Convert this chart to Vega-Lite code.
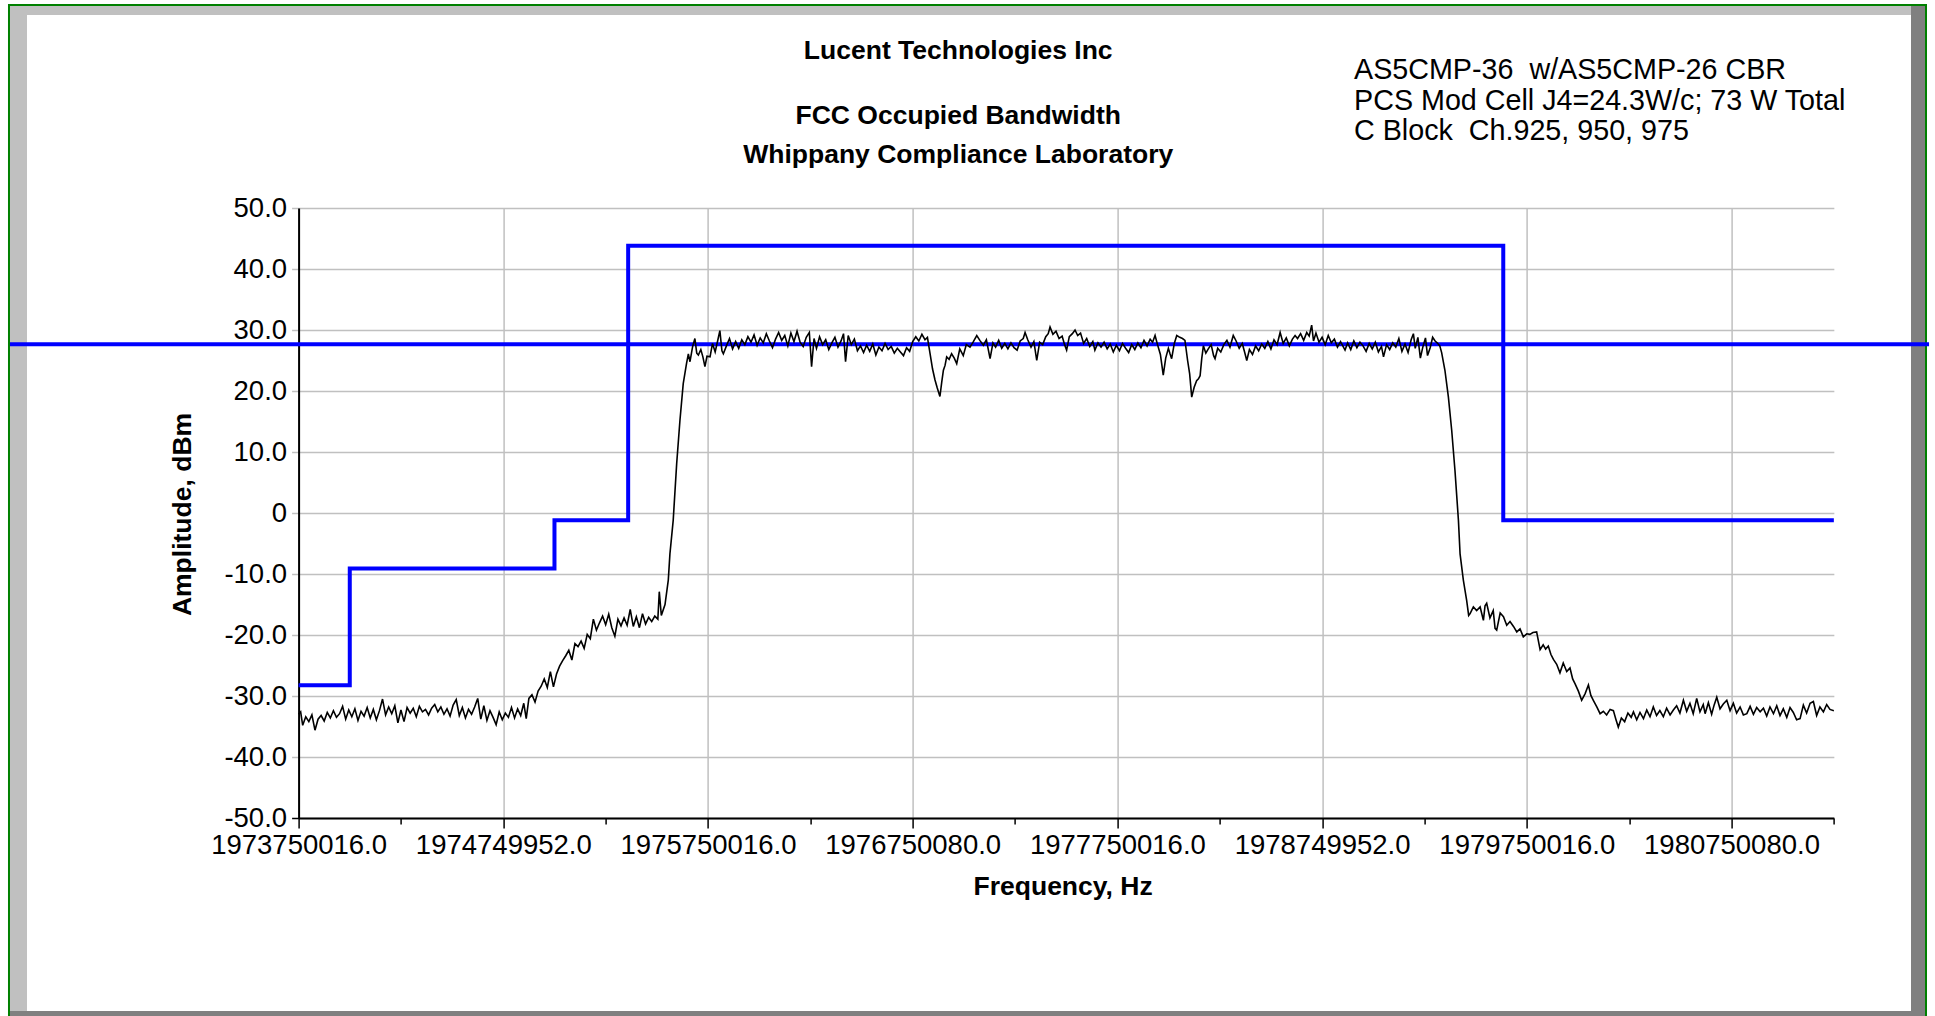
{
"$schema": "https://vega.github.io/schema/vega-lite/v6.json",
"width": 1535.25,
"height": 610,
"autosize": {"type": "none"},
"padding": {"left": 298.6, "top": 208, "right": 101.15, "bottom": 198},
"background": "white",
"title": {
 "text": "Lucent Technologies Inc",
 "subtitle": ["FCC Occupied Bandwidth", "Whippany Compliance Laboratory"],
 "anchor": "middle", "frame": "group", "dx": -108, "offset": -165,
 "font": "Liberation Sans", "fontSize": 26.5, "fontWeight": "bold", "color": "black",
 "subtitleFont": "Liberation Sans", "subtitleFontSize": 26.5, "subtitleFontWeight": "bold", "subtitleColor": "black",
 "subtitleLineHeight": 39.5, "subtitlePadding": 38.6
},
"datasets": {
"mask": [{"f":1973.75,"a":-28.25},{"f":1974.0,"a":-9.1},{"f":1975.0,"a":-1.2},{"f":1975.36,"a":43.8},{"f":1979.635,"a":-1.2},{"f":1981.25,"a":-1.2}],
"limit": [{"f":1972.34,"f2":1981.715,"a":27.65}],
"notes": [{"f":1978.906,"a":72.57,"note":["AS5CMP-36\u00a0 w/AS5CMP-26 CBR","PCS Mod Cell J4=24.3W/c; 73 W Total","C Block\u00a0 Ch.925, 950, 975"]}],
"trace": [
{"f":1973.750,"a":-33.0},{"f":1973.760,"a":-32.6},{"f":1973.770,"a":-34.8},{"f":1973.785,"a":-33.4},{"f":1973.800,"a":-34.2},{"f":1973.815,"a":-33.1},{"f":1973.830,"a":-35.6},{"f":1973.845,"a":-33.8},{"f":1973.860,"a":-33.2},{"f":1973.875,"a":-34.1},{"f":1973.890,"a":-32.7},{"f":1973.905,"a":-33.6},{"f":1973.920,"a":-32.4},{"f":1973.935,"a":-33.5},{"f":1973.950,"a":-32.9},{"f":1973.965,"a":-31.7},{"f":1973.980,"a":-33.8},{"f":1973.995,"a":-32.3},
{"f":1974.010,"a":-33.4},{"f":1974.025,"a":-32.1},{"f":1974.040,"a":-34.0},{"f":1974.055,"a":-32.5},{"f":1974.070,"a":-33.3},{"f":1974.085,"a":-31.9},{"f":1974.100,"a":-33.6},{"f":1974.115,"a":-32.2},{"f":1974.130,"a":-33.9},{"f":1974.145,"a":-32.4},{"f":1974.160,"a":-30.5},{"f":1974.175,"a":-33.1},{"f":1974.190,"a":-31.8},{"f":1974.205,"a":-32.9},{"f":1974.220,"a":-31.6},{"f":1974.235,"a":-34.4},{"f":1974.250,"a":-32.3},{"f":1974.265,"a":-34.2},{"f":1974.280,"a":-31.9},{"f":1974.295,"a":-32.8},{"f":1974.310,"a":-32.0},{"f":1974.325,"a":-33.4},{"f":1974.340,"a":-31.7},{"f":1974.355,"a":-32.6},{"f":1974.370,"a":-32.2},{"f":1974.385,"a":-33.1},{"f":1974.400,"a":-32.0},{"f":1974.415,"a":-31.4},{"f":1974.430,"a":-32.6},{"f":1974.445,"a":-31.8},{"f":1974.460,"a":-33.0},{"f":1974.475,"a":-32.1},{"f":1974.490,"a":-33.3},{"f":1974.505,"a":-31.5},{"f":1974.520,"a":-30.6},{"f":1974.535,"a":-33.2},{"f":1974.550,"a":-31.9},{"f":1974.565,"a":-33.6},{"f":1974.580,"a":-32.2},{"f":1974.595,"a":-33.0},{"f":1974.610,"a":-31.8},{"f":1974.625,"a":-30.4},{"f":1974.640,"a":-33.8},{"f":1974.655,"a":-31.6},{"f":1974.670,"a":-34.0},{"f":1974.685,"a":-32.4},{"f":1974.700,"a":-33.5},{"f":1974.715,"a":-34.7},{"f":1974.730,"a":-32.6},{"f":1974.745,"a":-33.9},{"f":1974.760,"a":-32.8},{"f":1974.775,"a":-33.5},{"f":1974.790,"a":-31.9},{"f":1974.805,"a":-33.6},{"f":1974.820,"a":-32.1},{"f":1974.835,"a":-33.2},{"f":1974.850,"a":-31.2},{"f":1974.862,"a":-33.7},{"f":1974.875,"a":-30.4},{"f":1974.890,"a":-29.8},{"f":1974.905,"a":-31.0},{"f":1974.920,"a":-29.2},{"f":1974.935,"a":-28.4},{"f":1974.950,"a":-27.2},{"f":1974.965,"a":-28.6},{"f":1974.980,"a":-26.0},{"f":1974.995,"a":-28.5},
{"f":1975.010,"a":-26.4},{"f":1975.025,"a":-25.1},{"f":1975.040,"a":-24.2},{"f":1975.055,"a":-23.4},{"f":1975.070,"a":-22.5},{"f":1975.085,"a":-24.1},{"f":1975.100,"a":-21.4},{"f":1975.115,"a":-21.9},{"f":1975.130,"a":-21.0},{"f":1975.145,"a":-22.2},{"f":1975.160,"a":-19.9},{"f":1975.175,"a":-20.6},{"f":1975.190,"a":-17.4},{"f":1975.205,"a":-19.2},{"f":1975.220,"a":-18.0},{"f":1975.235,"a":-16.9},{"f":1975.250,"a":-18.3},{"f":1975.265,"a":-16.6},{"f":1975.280,"a":-18.8},{"f":1975.295,"a":-20.2},{"f":1975.310,"a":-17.4},{"f":1975.325,"a":-18.5},{"f":1975.340,"a":-17.2},{"f":1975.355,"a":-18.4},{"f":1975.370,"a":-15.8},{"f":1975.385,"a":-18.6},{"f":1975.400,"a":-17.0},{"f":1975.415,"a":-18.8},{"f":1975.430,"a":-16.5},{"f":1975.445,"a":-18.2},{"f":1975.460,"a":-17.1},{"f":1975.475,"a":-17.8},{"f":1975.490,"a":-16.9},{"f":1975.505,"a":-17.4},{"f":1975.512,"a":-12.9},{"f":1975.522,"a":-16.8},{"f":1975.540,"a":-15.0},{"f":1975.556,"a":-11.0},{"f":1975.564,"a":-6.7},{"f":1975.580,"a":-1.2},{"f":1975.597,"a":8.1},{"f":1975.613,"a":15.2},{"f":1975.629,"a":21.2},{"f":1975.645,"a":24.5},{"f":1975.654,"a":26.1},{"f":1975.662,"a":24.8},{"f":1975.675,"a":27.3},{"f":1975.686,"a":28.6},{"f":1975.695,"a":26.2},{"f":1975.703,"a":25.9},{"f":1975.715,"a":26.8},{"f":1975.725,"a":25.6},{"f":1975.735,"a":24.0},{"f":1975.745,"a":25.7},{"f":1975.760,"a":25.6},{"f":1975.772,"a":27.8},{"f":1975.785,"a":26.4},{"f":1975.797,"a":28.2},{"f":1975.808,"a":29.9},{"f":1975.818,"a":26.6},{"f":1975.825,"a":26.1},
{"f":1975.840,"a":27.4},{"f":1975.855,"a":28.6},{"f":1975.870,"a":26.9},{"f":1975.885,"a":28.1},{"f":1975.900,"a":27.0},{"f":1975.915,"a":28.4},{"f":1975.930,"a":27.6},{"f":1975.945,"a":28.9},{"f":1975.960,"a":28.0},{"f":1975.975,"a":29.2},{"f":1975.990,"a":27.5},
{"f":1976.005,"a":28.7},{"f":1976.020,"a":27.9},{"f":1976.035,"a":29.4},{"f":1976.050,"a":28.2},{"f":1976.065,"a":27.1},{"f":1976.080,"a":28.5},{"f":1976.095,"a":29.6},{"f":1976.110,"a":28.3},{"f":1976.125,"a":29.1},{"f":1976.140,"a":27.4},{"f":1976.155,"a":29.5},{"f":1976.170,"a":28.1},{"f":1976.185,"a":29.8},{"f":1976.200,"a":28.0},{"f":1976.215,"a":27.3},{"f":1976.230,"a":28.8},{"f":1976.245,"a":29.6},{"f":1976.256,"a":24.0},{"f":1976.268,"a":28.6},{"f":1976.280,"a":27.0},{"f":1976.295,"a":28.9},{"f":1976.310,"a":27.6},{"f":1976.325,"a":28.4},{"f":1976.340,"a":26.8},{"f":1976.355,"a":27.9},{"f":1976.370,"a":28.8},{"f":1976.385,"a":27.2},{"f":1976.400,"a":28.2},{"f":1976.412,"a":29.4},{"f":1976.422,"a":24.8},{"f":1976.435,"a":29.1},{"f":1976.450,"a":27.6},{"f":1976.465,"a":28.5},{"f":1976.480,"a":26.6},{"f":1976.495,"a":27.4},{"f":1976.510,"a":26.3},{"f":1976.525,"a":27.5},{"f":1976.540,"a":26.5},{"f":1976.555,"a":27.7},{"f":1976.570,"a":25.9},{"f":1976.585,"a":27.2},{"f":1976.600,"a":26.6},{"f":1976.615,"a":27.8},{"f":1976.630,"a":26.8},{"f":1976.645,"a":27.3},{"f":1976.660,"a":26.2},{"f":1976.675,"a":27.0},{"f":1976.690,"a":26.4},{"f":1976.705,"a":25.8},{"f":1976.720,"a":27.1},{"f":1976.735,"a":26.5},{"f":1976.750,"a":28.1},{"f":1976.765,"a":28.9},{"f":1976.780,"a":28.2},{"f":1976.795,"a":29.3},{"f":1976.810,"a":28.4},{"f":1976.822,"a":28.8},{"f":1976.835,"a":26.1},{"f":1976.847,"a":23.6},{"f":1976.859,"a":21.8},{"f":1976.870,"a":20.5},{"f":1976.883,"a":19.1},{"f":1976.892,"a":21.5},{"f":1976.900,"a":23.4},{"f":1976.908,"a":24.2},{"f":1976.916,"a":25.6},{"f":1976.928,"a":25.2},{"f":1976.940,"a":26.1},{"f":1976.953,"a":25.4},{"f":1976.965,"a":24.5},{"f":1976.980,"a":26.9},{"f":1976.997,"a":25.8},
{"f":1977.012,"a":27.6},{"f":1977.030,"a":27.2},{"f":1977.045,"a":28.0},{"f":1977.063,"a":29.1},{"f":1977.078,"a":28.3},{"f":1977.095,"a":27.5},{"f":1977.110,"a":28.4},{"f":1977.128,"a":25.3},{"f":1977.142,"a":27.9},{"f":1977.155,"a":27.2},{"f":1977.170,"a":28.3},{"f":1977.185,"a":27.0},{"f":1977.200,"a":27.8},{"f":1977.215,"a":26.9},{"f":1977.230,"a":27.9},{"f":1977.245,"a":27.1},{"f":1977.260,"a":26.7},{"f":1977.275,"a":28.2},{"f":1977.290,"a":28.6},{"f":1977.299,"a":29.6},{"f":1977.312,"a":28.4},{"f":1977.328,"a":27.2},{"f":1977.342,"a":28.1},{"f":1977.356,"a":25.0},{"f":1977.370,"a":28.0},{"f":1977.385,"a":27.6},{"f":1977.400,"a":28.9},{"f":1977.412,"a":29.4},{"f":1977.421,"a":30.5},{"f":1977.435,"a":29.3},{"f":1977.450,"a":29.8},{"f":1977.465,"a":28.6},{"f":1977.480,"a":29.0},{"f":1977.492,"a":27.6},{"f":1977.502,"a":26.7},{"f":1977.515,"a":28.9},{"f":1977.530,"a":29.4},{"f":1977.543,"a":30.0},{"f":1977.556,"a":29.1},{"f":1977.570,"a":29.5},{"f":1977.585,"a":27.8},{"f":1977.600,"a":28.6},{"f":1977.615,"a":27.3},{"f":1977.630,"a":28.1},{"f":1977.640,"a":26.7},{"f":1977.655,"a":27.9},{"f":1977.670,"a":27.2},{"f":1977.685,"a":28.0},{"f":1977.700,"a":26.9},{"f":1977.715,"a":27.7},{"f":1977.730,"a":26.4},{"f":1977.745,"a":27.5},{"f":1977.760,"a":26.6},{"f":1977.775,"a":27.8},{"f":1977.790,"a":27.0},{"f":1977.805,"a":26.3},{"f":1977.820,"a":27.6},{"f":1977.835,"a":26.8},{"f":1977.850,"a":27.9},{"f":1977.865,"a":27.1},{"f":1977.880,"a":28.3},{"f":1977.895,"a":27.4},{"f":1977.910,"a":28.5},{"f":1977.922,"a":28.0},{"f":1977.934,"a":29.1},{"f":1977.946,"a":27.6},{"f":1977.960,"a":26.0},{"f":1977.974,"a":22.6},{"f":1977.986,"a":25.4},{"f":1977.999,"a":27.0},
{"f":1978.007,"a":26.1},{"f":1978.015,"a":25.3},{"f":1978.028,"a":27.8},{"f":1978.040,"a":29.1},{"f":1978.055,"a":28.8},{"f":1978.068,"a":28.6},{"f":1978.080,"a":28.3},{"f":1978.093,"a":25.0},{"f":1978.103,"a":22.8},{"f":1978.113,"a":19.0},{"f":1978.125,"a":20.6},{"f":1978.137,"a":21.7},{"f":1978.146,"a":22.0},{"f":1978.154,"a":22.5},{"f":1978.162,"a":25.3},{"f":1978.170,"a":27.4},{"f":1978.182,"a":26.2},{"f":1978.194,"a":26.9},{"f":1978.208,"a":27.6},{"f":1978.220,"a":25.8},{"f":1978.227,"a":25.3},{"f":1978.240,"a":27.0},{"f":1978.255,"a":26.4},{"f":1978.270,"a":27.6},{"f":1978.285,"a":28.3},{"f":1978.300,"a":27.2},{"f":1978.316,"a":29.1},{"f":1978.330,"a":28.2},{"f":1978.345,"a":27.0},{"f":1978.360,"a":27.8},{"f":1978.372,"a":26.3},{"f":1978.382,"a":25.0},{"f":1978.395,"a":26.8},{"f":1978.410,"a":26.0},{"f":1978.425,"a":27.4},{"f":1978.440,"a":26.6},{"f":1978.455,"a":27.7},{"f":1978.470,"a":27.0},{"f":1978.485,"a":28.1},{"f":1978.500,"a":26.9},{"f":1978.515,"a":28.4},{"f":1978.530,"a":27.6},{"f":1978.545,"a":29.6},{"f":1978.560,"a":27.8},{"f":1978.575,"a":28.7},{"f":1978.590,"a":27.4},{"f":1978.605,"a":28.5},{"f":1978.618,"a":29.1},{"f":1978.630,"a":28.6},{"f":1978.645,"a":29.4},{"f":1978.660,"a":28.3},{"f":1978.675,"a":29.6},{"f":1978.687,"a":29.0},{"f":1978.699,"a":30.8},{"f":1978.708,"a":28.2},{"f":1978.720,"a":29.5},{"f":1978.735,"a":28.0},{"f":1978.750,"a":28.8},{"f":1978.765,"a":27.6},{"f":1978.780,"a":29.1},{"f":1978.795,"a":27.9},{"f":1978.810,"a":28.5},{"f":1978.825,"a":27.2},{"f":1978.840,"a":28.1},{"f":1978.862,"a":26.7},{"f":1978.875,"a":27.9},{"f":1978.890,"a":26.8},{"f":1978.905,"a":28.2},{"f":1978.920,"a":27.1},{"f":1978.935,"a":28.0},{"f":1978.950,"a":27.4},{"f":1978.965,"a":26.5},{"f":1978.980,"a":27.8},{"f":1978.995,"a":26.9},
{"f":1979.010,"a":28.0},{"f":1979.025,"a":26.4},{"f":1979.040,"a":27.3},{"f":1979.050,"a":25.6},{"f":1979.065,"a":27.6},{"f":1979.080,"a":26.8},{"f":1979.095,"a":27.9},{"f":1979.110,"a":27.2},{"f":1979.125,"a":28.6},{"f":1979.140,"a":26.5},{"f":1979.155,"a":27.7},{"f":1979.170,"a":26.3},{"f":1979.185,"a":28.4},{"f":1979.196,"a":29.4},{"f":1979.205,"a":27.0},{"f":1979.218,"a":28.8},{"f":1979.230,"a":25.4},{"f":1979.242,"a":27.2},{"f":1979.255,"a":28.7},{"f":1979.265,"a":25.8},{"f":1979.278,"a":27.1},{"f":1979.290,"a":28.8},{"f":1979.302,"a":28.2},{"f":1979.312,"a":27.9},{"f":1979.325,"a":27.4},{"f":1979.334,"a":26.3},{"f":1979.350,"a":23.4},{"f":1979.367,"a":19.0},{"f":1979.383,"a":13.6},{"f":1979.399,"a":7.0},{"f":1979.416,"a":-1.2},{"f":1979.424,"a":-6.7},{"f":1979.440,"a":-11.0},{"f":1979.456,"a":-14.3},{"f":1979.466,"a":-16.8},{"f":1979.473,"a":-16.5},{"f":1979.489,"a":-15.4},{"f":1979.505,"a":-16.0},{"f":1979.522,"a":-15.4},{"f":1979.538,"a":-17.6},{"f":1979.546,"a":-15.2},{"f":1979.554,"a":-14.8},{"f":1979.570,"a":-17.2},{"f":1979.586,"a":-16.0},{"f":1979.595,"a":-18.9},{"f":1979.603,"a":-19.2},{"f":1979.620,"a":-16.4},{"f":1979.636,"a":-17.0},{"f":1979.652,"a":-18.4},{"f":1979.668,"a":-17.8},{"f":1979.685,"a":-18.6},{"f":1979.701,"a":-19.5},{"f":1979.717,"a":-19.0},{"f":1979.733,"a":-20.3},{"f":1979.750,"a":-19.8},{"f":1979.765,"a":-19.9},{"f":1979.780,"a":-19.6},{"f":1979.798,"a":-19.5},{"f":1979.815,"a":-22.4},{"f":1979.830,"a":-21.6},{"f":1979.842,"a":-22.3},{"f":1979.855,"a":-21.8},{"f":1979.868,"a":-23.2},{"f":1979.880,"a":-24.0},{"f":1979.896,"a":-24.8},{"f":1979.912,"a":-26.2},{"f":1979.928,"a":-24.6},{"f":1979.945,"a":-26.0},{"f":1979.961,"a":-25.4},{"f":1979.974,"a":-27.2},{"f":1979.986,"a":-28.0},
{"f":1980.002,"a":-29.2},{"f":1980.018,"a":-30.7},{"f":1980.035,"a":-29.6},{"f":1980.051,"a":-28.2},{"f":1980.063,"a":-29.9},{"f":1980.075,"a":-30.7},{"f":1980.092,"a":-31.8},{"f":1980.108,"a":-32.9},{"f":1980.124,"a":-32.5},{"f":1980.140,"a":-33.1},{"f":1980.157,"a":-32.2},{"f":1980.173,"a":-32.4},{"f":1980.185,"a":-33.8},{"f":1980.197,"a":-35.1},{"f":1980.212,"a":-33.6},{"f":1980.228,"a":-34.2},{"f":1980.244,"a":-32.8},{"f":1980.260,"a":-33.5},{"f":1980.271,"a":-32.6},{"f":1980.287,"a":-33.9},{"f":1980.303,"a":-32.7},{"f":1980.320,"a":-33.7},{"f":1980.336,"a":-32.3},{"f":1980.352,"a":-33.4},{"f":1980.368,"a":-31.8},{"f":1980.384,"a":-33.2},{"f":1980.400,"a":-32.4},{"f":1980.417,"a":-33.4},{"f":1980.433,"a":-32.0},{"f":1980.450,"a":-33.1},{"f":1980.466,"a":-32.3},{"f":1980.482,"a":-31.6},{"f":1980.498,"a":-32.8},{"f":1980.515,"a":-30.7},{"f":1980.531,"a":-32.5},{"f":1980.547,"a":-31.2},{"f":1980.563,"a":-32.9},{"f":1980.580,"a":-30.4},{"f":1980.596,"a":-32.6},{"f":1980.612,"a":-31.4},{"f":1980.621,"a":-32.9},{"f":1980.637,"a":-31.1},{"f":1980.653,"a":-33.0},{"f":1980.665,"a":-31.5},{"f":1980.678,"a":-30.2},{"f":1980.694,"a":-32.1},{"f":1980.710,"a":-31.3},{"f":1980.727,"a":-30.7},{"f":1980.743,"a":-32.4},{"f":1980.759,"a":-31.2},{"f":1980.775,"a":-32.8},{"f":1980.792,"a":-31.8},{"f":1980.808,"a":-33.1},{"f":1980.825,"a":-32.9},{"f":1980.841,"a":-31.7},{"f":1980.857,"a":-33.0},{"f":1980.873,"a":-31.9},{"f":1980.890,"a":-32.6},{"f":1980.906,"a":-32.0},{"f":1980.922,"a":-33.3},{"f":1980.938,"a":-31.8},{"f":1980.955,"a":-32.9},{"f":1980.971,"a":-31.6},{"f":1980.987,"a":-33.2},
{"f":1981.003,"a":-32.1},{"f":1981.020,"a":-33.5},{"f":1981.036,"a":-31.9},{"f":1981.052,"a":-32.7},{"f":1981.068,"a":-33.9},{"f":1981.085,"a":-33.7},{"f":1981.101,"a":-31.5},{"f":1981.117,"a":-32.8},{"f":1981.134,"a":-31.2},{"f":1981.150,"a":-30.9},{"f":1981.166,"a":-33.2},{"f":1981.182,"a":-31.8},{"f":1981.199,"a":-32.6},{"f":1981.215,"a":-31.4},{"f":1981.231,"a":-32.2},{"f":1981.250,"a":-32.4}
]
},
"layer": [
 {"data": {"values": [{"k": 1}]}, "mark": {"type": "rect", "color": "#c0c0c0", "clip": false},
  "encoding": {"x": {"datum": 1972.3401, "type": "quantitative"}, "x2": {"datum": 1981.6269}, "y": {"datum": 83.11, "type": "quantitative"}, "y2": {"datum": 81.64}}},
 {"data": {"values": [{"k": 1}]}, "mark": {"type": "rect", "color": "#c0c0c0", "clip": false},
  "encoding": {"x": {"datum": 1972.3401, "type": "quantitative"}, "x2": {"datum": 1972.4232}, "y": {"datum": 83.11, "type": "quantitative"}, "y2": {"datum": -81.64}}},
 {"data": {"values": [{"k": 1}]}, "mark": {"type": "rect", "color": "#808080", "clip": false},
  "encoding": {"x": {"datum": 1981.6269, "type": "quantitative"}, "x2": {"datum": 1981.7002}, "y": {"datum": 83.11, "type": "quantitative"}, "y2": {"datum": -82.46}}},
 {"data": {"values": [{"k": 1}]}, "mark": {"type": "rect", "color": "#808080", "clip": false},
  "encoding": {"x": {"datum": 1972.3401, "type": "quantitative"}, "x2": {"datum": 1981.7002}, "y": {"datum": -81.64, "type": "quantitative"}, "y2": {"datum": -82.46}}},
 {"data": {"values": [{"k": 1}]}, "mark": {"type": "rect", "filled": false, "stroke": "#008000", "strokeWidth": 2, "clip": false},
  "encoding": {"x": {"datum": 1972.3352, "type": "quantitative"}, "x2": {"datum": 1981.7002}, "y": {"datum": 83.28, "type": "quantitative"}, "y2": {"datum": -82.79}}},
 {"data": {"name": "mask"}, "mark": {"type": "line", "interpolate": "step-after", "color": "#0000ff", "strokeWidth": 4, "clip": false},
  "encoding": {"x": {"field": "f", "type": "quantitative"}, "y": {"field": "a", "type": "quantitative"}}},
 {"data": {"name": "limit"}, "mark": {"type": "rule", "color": "#0000ff", "strokeWidth": 4, "clip": false},
  "encoding": {"x": {"field": "f", "type": "quantitative"}, "x2": {"field": "f2"}, "y": {"field": "a", "type": "quantitative"}}},
 {"data": {"name": "trace"}, "mark": {"type": "line", "color": "black", "strokeWidth": 1.6, "clip": false},
  "encoding": {
   "x": {"field": "f", "type": "quantitative",
    "scale": {"domain": [1973.75, 1981.25], "nice": false, "zero": false},
    "axis": {
     "values": [1973.75,1974.25,1974.75,1975.25,1975.75,1976.25,1976.75,1977.25,1977.75,1978.25,1978.75,1979.25,1979.75,1980.25,1980.75,1981.25],
     "labelExpr": "round((datum.value-1973.75)*2) % 2 == 1 ? '' : ['1973750016.0','1974749952.0','1975750016.0','1976750080.0','1977750016.0','1978749952.0','1979750016.0','1980750080.0',''][round(datum.value-1973.75)]",
     "grid": true, "gridColor": "#c0c0c0", "gridWidth": 1.5,
     "gridOpacity": {"condition": {"test": "round((datum.value-1973.75)*2) % 2 == 1", "value": 0}, "value": 1},
     "tickColor": "black", "tickWidth": 1.5,
     "tickSize": {"condition": {"test": "round((datum.value-1973.75)*2) % 2 == 1", "value": 6}, "value": 10},
     "domainColor": "black", "domainWidth": 2,
     "labelFont": "Liberation Sans", "labelFontSize": 27.5, "labelColor": "black", "labelPadding": 3,
     "labelOverlap": false, "labelFlush": false, "labelBound": false,
     "title": "Frequency, Hz", "titleFont": "Liberation Sans", "titleFontSize": 26.5, "titleFontWeight": "bold", "titleColor": "black",
     "titleX": 764, "titleY": 68, "titleAlign": "center", "titleBaseline": "middle"
    }
   },
   "y": {"field": "a", "type": "quantitative",
    "scale": {"domain": [-50, 50], "nice": false, "zero": false},
    "axis": {
     "values": [-50,-47.5,-45,-42.5,-40,-37.5,-35,-32.5,-30,-27.5,-25,-22.5,-20,-17.5,-15,-12.5,-10,-7.5,-5,-2.5,0,2.5,5,7.5,10,12.5,15,17.5,20,22.5,25,27.5,30,32.5,35,37.5,40,42.5,45,47.5,50],
     "labelExpr": "datum.value % 10 != 0 ? '' : (datum.value == 0 ? '0' : datum.value + '.0')",
     "grid": true, "gridColor": "#c0c0c0", "gridWidth": 1.5,
     "gridOpacity": {"condition": {"test": "datum.value % 10 != 0", "value": 0}, "value": 1},
     "tickColor": {"condition": {"test": "datum.value < -40", "value": "black"}, "value": "#c0c0c0"},
     "tickWidth": 1.5, "tickSize": 7,
     "domainColor": "black", "domainWidth": 2,
     "labelFont": "Liberation Sans", "labelFontSize": 27.5, "labelColor": "black", "labelPadding": 5,
     "labelOverlap": false, "labelFlush": false, "labelBound": false,
     "title": "Amplitude, dBm", "titleFont": "Liberation Sans", "titleFontSize": 26.5, "titleFontWeight": "bold", "titleColor": "black",
     "titleX": -116, "titleY": 306, "titleAngle": 270, "titleAlign": "center", "titleBaseline": "middle"
    }
   }
  }},
 {"data": {"name": "notes"}, "mark": {"type": "text", "align": "left", "baseline": "middle", "font": "Liberation Sans", "fontSize": 28.7, "lineHeight": 30.4, "color": "black", "clip": false},
  "encoding": {"x": {"field": "f", "type": "quantitative"}, "y": {"field": "a", "type": "quantitative"}, "text": {"field": "note"}}}
],
"config": {"view": {"stroke": null}}
}
